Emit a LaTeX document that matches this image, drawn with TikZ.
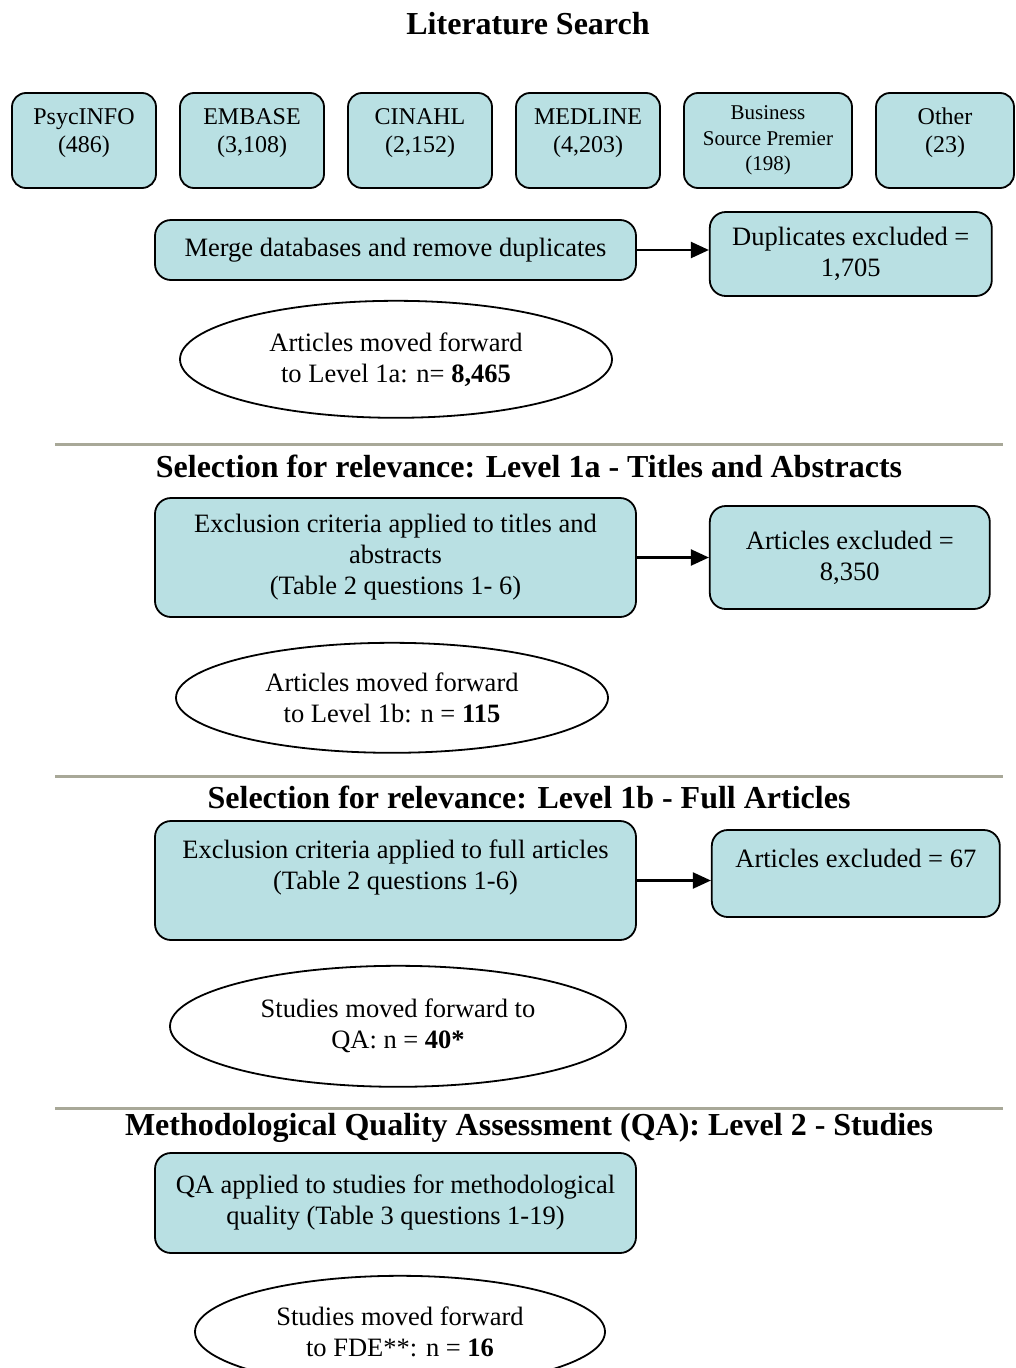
\documentclass[tikz,border=0pt]{standalone}
\usepackage{fontspec}
\setmainfont{Liberation Serif}
\usepackage{xcolor}
\usepackage{tikz}
\usetikzlibrary{positioning,shapes.geometric,arrows.meta}

\definecolor{boxfill}{RGB}{185,224,227}
\definecolor{rulegray}{RGB}{168,168,152}

\begin{document}
\begin{tikzpicture}
      [ x=1pt, y=-1pt,
        every node/.style={font=\fontsize{26.5}{31}\selectfont, align=center},
        dbbox/.style={draw, fill=boxfill, line width=1.8pt, rounded corners=14pt,
                      minimum width=144pt, minimum height=95pt, inner sep=0pt,
                      font=\fontsize{24}{28}\selectfont},
        stagebox/.style={draw, fill=boxfill, line width=1.8pt, rounded corners=16pt,
                         minimum width=481pt, inner sep=0pt},
        outbox/.style={draw, fill=boxfill, line width=1.8pt, rounded corners=16pt,
                       inner sep=0pt},
        result/.style={draw, ellipse, line width=1.8pt, inner sep=0pt},
        heading/.style={font=\fontsize{32}{36}\selectfont\bfseries},
        sepline/.style={rulegray, line width=3pt},
        >={Triangle[length=18pt,width=16pt]}
      ]
      \clip (0,0) rectangle (1016,1368);

      % Literature search
      \node[heading]  (title)   at (528,24)                 {Literature Search};
      \node[dbbox]    (psyc)    at (84,140.5)               {PsycINFO\\(486)\\[-8pt]\mbox{}};
      \node[dbbox]    (embase)  [right=22.2pt of psyc]      {EMBASE\\(3,108)\\[-8pt]\mbox{}};
      \node[dbbox]    (cinahl)  [right=22.2pt of embase]    {CINAHL\\(2,152)\\[-8pt]\mbox{}};
      \node[dbbox]    (medline) [right=22.2pt of cinahl]    {MEDLINE\\(4,203)\\[-8pt]\mbox{}};
      \node[dbbox, minimum width=168pt, font=\fontsize{21}{25.5}\selectfont]
                      (bsp)     [right=22.2pt of medline]   {Business\\Source Premier\\(198)};
      \node[dbbox, minimum width=138pt]
                      (other)   [right=22.2pt of bsp]       {Other\\(23)\\[-8pt]\mbox{}};

      \node[stagebox, minimum height=60pt] (merge) at (395.5,250)
            {Merge databases and remove duplicates};
      \node[outbox, minimum width=282pt, minimum height=84pt]
            (dupl) [right=72pt of merge, yshift=-4pt] {Duplicates excluded =\\1,705};
      \node[result, minimum width=432pt, minimum height=117pt]
            (tolevela) [below=19pt of merge, xshift=0.5pt]
            {Articles moved forward\\to Level 1a: n= \textbf{8,465}};

      % Level 1a
      \draw[sepline] (55,444) -- (1003,444);
      \node[heading] (heada) at (529,466) {Selection for relevance: Level 1a - Titles and Abstracts};
      \node[stagebox, minimum height=119pt] (excla) at (395.5,557.5)
            {Exclusion criteria applied to titles and\\abstracts\\(Table 2 questions 1- 6)};
      \node[outbox, minimum width=280pt, minimum height=103pt]
            (outa) [right=72pt of excla] {Articles excluded =\\8,350};
      \node[result, minimum width=432pt, minimum height=110pt]
            (tolevelb) [below=24pt of excla, xshift=-3.5pt]
            {Articles moved forward\\to Level 1b: n = \textbf{115}};

      % Level 1b
      \draw[sepline] (55,776) -- (1003,776);
      \node[heading] (headb) at (529,797) {Selection for relevance: Level 1b - Full Articles};
      \node[stagebox, minimum height=119pt] (exclb) at (395.5,880.5)
            {Exclusion criteria applied to full articles\\(Table 2 questions 1-6)\\\mbox{}};
      \node[outbox, minimum width=288pt, minimum height=87pt]
            (outb) [right=74pt of exclb, yshift=7pt] {Articles excluded = 67\\\mbox{}};
      \node[result, minimum width=456pt, minimum height=121pt]
            (toqa) [below=24pt of exclb, xshift=2.5pt]
            {Studies moved forward to\\QA: n = \textbf{40*}};

      % Level 2
      \draw[sepline] (55,1108) -- (1003,1108);
      \node[heading] (headqa) at (529,1128) {Methodological Quality Assessment (QA): Level 2 - Studies};
      \node[stagebox, minimum height=100pt] (qa) at (395.5,1203)
            {QA applied to studies for methodological\\quality (Table 3 questions 1-19)};
      \node[result, minimum width=410pt, minimum height=112pt]
            (tofde) [below=21pt of qa, xshift=4.5pt]
            {Studies moved forward\\to FDE**: n = \textbf{16}};

      \path[->, line width=2.2pt]
            (merge) edge (dupl.west |- merge.east)
            (excla) edge (outa)
            (exclb) edge (outb.west |- exclb.east);
\end{tikzpicture}
\end{document}
